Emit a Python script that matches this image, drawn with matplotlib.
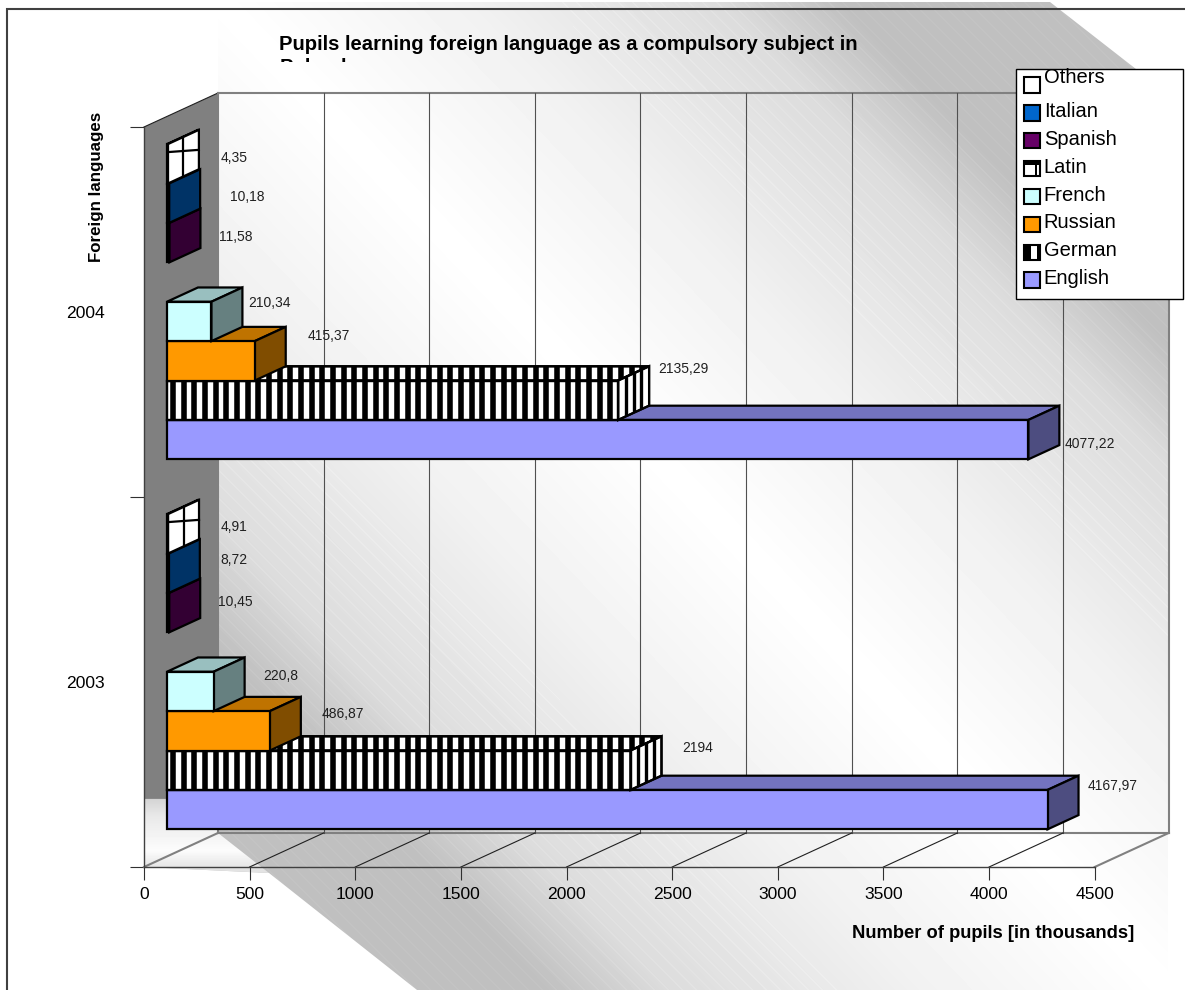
import numpy as np
import matplotlib
matplotlib.use('Agg')
import matplotlib.pyplot as plt
from matplotlib.collections import LineCollection
from matplotlib.legend_handler import HandlerBase
from matplotlib.patches import Patch, Polygon, Rectangle

plt.rcParams['font.family'] = ['Liberation Sans', 'DejaVu Sans']

# Pupils per language, thousands (None = no bar for that year)
years = ['2003', '2004']
languages = ['English', 'German', 'Russian', 'French', 'Latin', 'Spanish', 'Italian', 'Others']
pupils_2003 = [4167.97, 2194, 486.87, 220.8, None, 10.45, 8.72, 4.91]
pupils_2004 = [4077.22, 2135.29, 415.37, 210.34, None, 11.58, 10.18, 4.35]
x_ticks = [0, 500, 1000, 1500, 2000, 2500, 3000, 3500, 4000, 4500]

# Face, top and side colours of each language
face_colors = ['#9999ff', '#ffffff', '#ff9900', '#ccffff', '#ffffff', '#660066', '#0066cc', '#ffffff']
top_colors = ['#7373bf', '#ffffff', '#bf7300', '#99bfbf', '#ffffff', '#4d004d', '#004d99', '#ffffff']
side_colors = ['#4d4d80', '#ffffff', '#804d00', '#668080', '#ffffff', '#330033', '#003366', '#ffffff']
swatch_colors = ['#9999ff', '#ffffff', '#ff9900', '#ccffff', '#ffffff', '#660066', '#0066cc', '#ffffff']

# Value label offsets from the bar end, in pixels
label_offsets_2003 = [(34, 9), (36, 8), (42, 3), (36, 1), None, (35, -4), (34, -1), (35, -7)]
label_offsets_2004 = [(31, -19), (34, 17), (43, 11), (27, 4), None, (35, -9), (47, -8), (35, -8)]

W, H = 1185, 990
# Oblique projection of the depth axis: full depth in data units
DEPTH_X = 350.0
DEPTH_Y = 0.0919
BAR_D0, BAR_D1 = 0.311, 0.73
BAR_BASE = 0.0732
BAR_H = 0.1065
WALL_GRAY = '#808080'


def project(value, cat, depth=0.0):
    return value + depth * DEPTH_X, cat + depth * DEPTH_Y


fig = plt.figure(figsize=(W / 100, H / 100), dpi=100)

# Pixel-space layer for the shaded backdrop
bg = fig.add_axes([0, 0, 1, 1], zorder=0)
bg.set_xlim(0, W)
bg.set_ylim(H, 0)
bg.axis('off')

yy, xx = np.mgrid[0:H, 0:W]
d = np.abs((xx - 218) - yy * 0.96)
shade = np.interp(d, [0, 250, 500, 620], [255, 241, 220, 192])
# faint diagonal dither lines in the darker part of the shading
shade = shade + 4 * (((xx - yy) % 14 < 1.5) & (d > 330))
back_poly = Polygon([(218, 2), (1050, 2), (1168, 94), (1168, 990), (417, 990), (269, 873),
                     (144, 867), (144, 799), (218, 799)], transform=bg.transData)
im = bg.imshow(shade, cmap='gray', vmin=0, vmax=255, extent=(0, W, H, 0), aspect='auto',
               interpolation='nearest')
im.set_clip_path(back_poly)

# Light band where the side wall meets the floor
band = np.interp(yy, [799, 815, 850, 867], [212, 232, 252, 228])
corner_poly = Polygon([(144, 799), (218, 799), (218, 833), (269, 873), (144, 867)],
                      transform=bg.transData)
im2 = bg.imshow(band, cmap='gray', vmin=0, vmax=255, extent=(0, W, H, 0), aspect='auto',
                interpolation='nearest')
im2.set_clip_path(corner_poly)

bg.set_xlim(0, W)
bg.set_ylim(H, 0)
bg.plot([6.5, 6.5, W], [H, 8.5, 8.5], color='#404040', lw=1.5, solid_joinstyle='miter')

# Chart axes: x is pupils, y is the category position on the front plane
ax = fig.add_axes([144 / W, (H - 867) / H, 950.7 / W, 740 / H], zorder=1)
ax.patch.set_visible(False)
ax.set_xlim(0, 4500)
ax.set_ylim(0, 2)
ax.set_axisbelow(True)
for name in ['top', 'right']:
    ax.spines[name].set_visible(False)
for name in ['left', 'bottom']:
    ax.spines[name].set_color('#404040')
    ax.spines[name].set_linewidth(1.0)
ax.set_xticks(x_ticks)
ax.tick_params(axis='x', length=9.4, width=0.8, pad=5, labelsize=12.6, color='#303030')
ax.set_yticks([0, 1, 2])
ax.set_yticklabels([])
ax.tick_params(axis='y', which='major', length=10, width=0.8, color='#303030')
ax.set_yticks([0.5, 1.5], labels=years, minor=True)
ax.tick_params(axis='y', which='minor', length=0, pad=28, labelsize=12.6)

ax.set_xlabel('Number of pupils [in thousands]', fontsize=13.2, fontweight='bold')
ax.xaxis.set_label_coords((993 - 144) / 950.7, -(933 - 867) / 740, transform=ax.transAxes)
ax.xaxis.label.set_va('center')
ax.set_ylabel('Foreign languages', fontsize=12.2, fontweight='bold')
ax.yaxis.set_label_coords((96 - 144) / 950.7, (867 - 187) / 740, transform=ax.transAxes)
ax.yaxis.label.set_va('center')

ax.set_title('Pupils learning foreign language as a compulsory subject in', fontsize=14.6,
             fontweight='bold', x=(568 - 144) / 950.7, y=(867 - 50) / 740, va='baseline', pad=0)
# Second title line runs past the top of its box and only shows its upper edge
second = bg.text(280, 73, 'Poland', fontsize=14.6, fontweight='bold', va='baseline', clip_on=True)
second.set_clip_path(Rectangle((0, 0), W, 62, transform=bg.transData))


def wall_line(p0, p1, color, lw, zorder=1.0):
    ax.plot([p0[0], p1[0]], [p0[1], p1[1]], color=color, lw=lw, clip_on=False, zorder=zorder)


# Side wall, back wall frame, floor lines
side_wall = [project(0, 2, 0), project(0, 2, 1), project(0, 0.092, 1), project(0, 0.184, 0)]
ax.add_patch(Polygon(side_wall, closed=True, fc=WALL_GRAY, ec='none', clip_on=False, zorder=0.5))
wall_line(project(0, 2, 0), project(0, 2, 1), '#202020', 0.8)
wall_line(project(0, 2, 1), project(4500, 2, 1), WALL_GRAY, 1.5)
wall_line(project(0, 0, 1), project(4500, 0, 1), WALL_GRAY, 1.5)
for tick in x_ticks:
    edge = tick in (0, 4500)
    wall_line(project(tick, 0, 1), project(tick, 2, 1), WALL_GRAY if edge else '#505050', 1.5 if edge else 0.8)
    wall_line(project(tick, 0, 0), project(tick, 0, 1), WALL_GRAY if edge else '#202020', 1.5 if edge else 0.8)


def add_face(points, fc, zorder):
    patch = Polygon(points, closed=True, fc=fc, ec='black', lw=1.6, joinstyle='miter',
                    clip_on=False, zorder=zorder)
    ax.add_patch(patch)
    return patch


def add_stripes(patch, x_positions, y0, y1, lw, zorder):
    segs = [[(x, y0), (x, y1)] for x in x_positions]
    lc = LineCollection(segs, colors='black', linewidths=lw, zorder=zorder)
    ax.add_collection(lc, autolim=False)
    lc.set_clip_path(patch)
    # outline goes back over the stripes
    patch_top = Polygon(patch.get_xy(), closed=True, fc='none', ec='black', lw=1.6,
                        joinstyle='miter', clip_on=False, zorder=zorder + 0.001)
    ax.add_patch(patch_top)


def draw_bar(value, cat, idx, zorder):
    y0 = cat + BAR_BASE + idx * BAR_H
    y1 = y0 + BAR_H
    front = [project(0, y0, BAR_D0), project(value, y0, BAR_D0),
             project(value, y1, BAR_D0), project(0, y1, BAR_D0)]
    top = [project(0, y1, BAR_D0), project(value, y1, BAR_D0),
           project(value, y1, BAR_D1), project(0, y1, BAR_D1)]
    side = [project(value, y0, BAR_D0), project(value, y0, BAR_D1),
            project(value, y1, BAR_D1), project(value, y1, BAR_D0)]
    p_top = add_face(top, top_colors[idx], zorder)
    p_side = add_face(side, side_colors[idx], zorder + 0.01)
    p_front = add_face(front, face_colors[idx], zorder + 0.02)
    if languages[idx] == 'German':
        start = project(0, y0, BAR_D0)[0]
        end = project(value, y0, BAR_D1)[0]
        xs = np.arange(start + 28, end, 50.5)
        y_low, y_high = project(0, y0, BAR_D0)[1], project(0, y1, BAR_D1)[1]
        add_stripes(p_top, xs, y_low, y_high, 4.0, zorder + 0.005)
        side_x = np.linspace(project(value, 0, BAR_D0)[0], project(value, 0, BAR_D1)[0], 5)[1:-1]
        add_stripes(p_side, side_x, y_low, y_high, 2.4, zorder + 0.015)
        add_stripes(p_front, xs, y_low, y_high, 4.0, zorder + 0.025)
    if languages[idx] == 'Others':
        mid = project(value, 0, (BAR_D0 + BAR_D1) / 2)[0]
        y_mid = (BAR_D0 + BAR_D1) / 2 * DEPTH_Y
        ax.plot([mid, mid], [y0 + y_mid, y1 + y_mid], color='black', lw=1.6, clip_on=False, zorder=zorder + 0.03)
        ax.plot(*zip(project(value, y1 - 8 / 370, BAR_D0), project(value, y1 - 20 / 370, BAR_D1)),
                color='black', lw=1.6, clip_on=False, zorder=zorder + 0.03)


def value_text(value):
    return f'{value:g}'.replace('.', ',')


for cat, (series, offsets) in enumerate([(pupils_2003, label_offsets_2003), (pupils_2004, label_offsets_2004)]):
    for idx, value in enumerate(series):
        if value is None:
            continue
        draw_bar(value, cat, idx, 3 + cat + idx * 0.1)
        anchor = project(value, cat + BAR_BASE + (idx + 0.5) * BAR_H, BAR_D1)
        ax.annotate(value_text(value), xy=anchor, xytext=offsets[idx], textcoords='offset pixels',
                    ha='center', va='center', fontsize=10, color='#202020',
                    annotation_clip=False, zorder=8)


class Swatch(HandlerBase):
    def __init__(self, color, kind=None):
        super().__init__()
        self.color = color
        self.kind = kind

    def create_artists(self, legend, orig_handle, xdescent, ydescent, width, height, fontsize, trans):
        x, y = -xdescent, -ydescent
        arts = [Rectangle((x, y), width, height, fc=self.color, ec='black', lw=1.5, transform=trans)]
        if self.kind == 'German':
            arts.append(Rectangle((x, y), width * 0.45, height, fc='black', ec='none', transform=trans))
            arts.append(Rectangle((x + width * 0.82, y), width * 0.18, height, fc='black', ec='none', transform=trans))
        if self.kind == 'Latin':
            arts.append(Rectangle((x, y + height * 0.72), width, height * 0.28, fc='black', ec='none', transform=trans))
            arts.append(Rectangle((x + width * 0.68, y), width * 0.14, height, fc='black', ec='none', transform=trans))
        return arts


handles = []
handler_map = {}
for idx in range(len(languages) - 1, -1, -1):
    handle = Patch(label=languages[idx])
    handles.append(handle)
    handler_map[handle] = Swatch(swatch_colors[idx], languages[idx])

legend = ax.legend(handles=handles, handler_map=handler_map, fontsize=14.5, mode='expand',
                   loc='upper left', bbox_to_anchor=(1015.5 / W, 1 - 69 / H - 0.01, (1183 - 1015.5) / W, 0.01),
                   bbox_transform=fig.transFigure, borderaxespad=0, frameon=True, fancybox=False,
                   framealpha=1, edgecolor='black', handlelength=0.8, handleheight=0.8,
                   handletextpad=0.2, labelspacing=0.44, borderpad=0.4)
legend.get_frame().set_linewidth(1.0)
legend.set_zorder(20)
# Entry text sits a little above its swatch, the first entry more so
for i, txt in enumerate(legend.get_texts()):
    txt.set_y(9 if i == 0 else 3)

fig.savefig('out.png', dpi=100)
